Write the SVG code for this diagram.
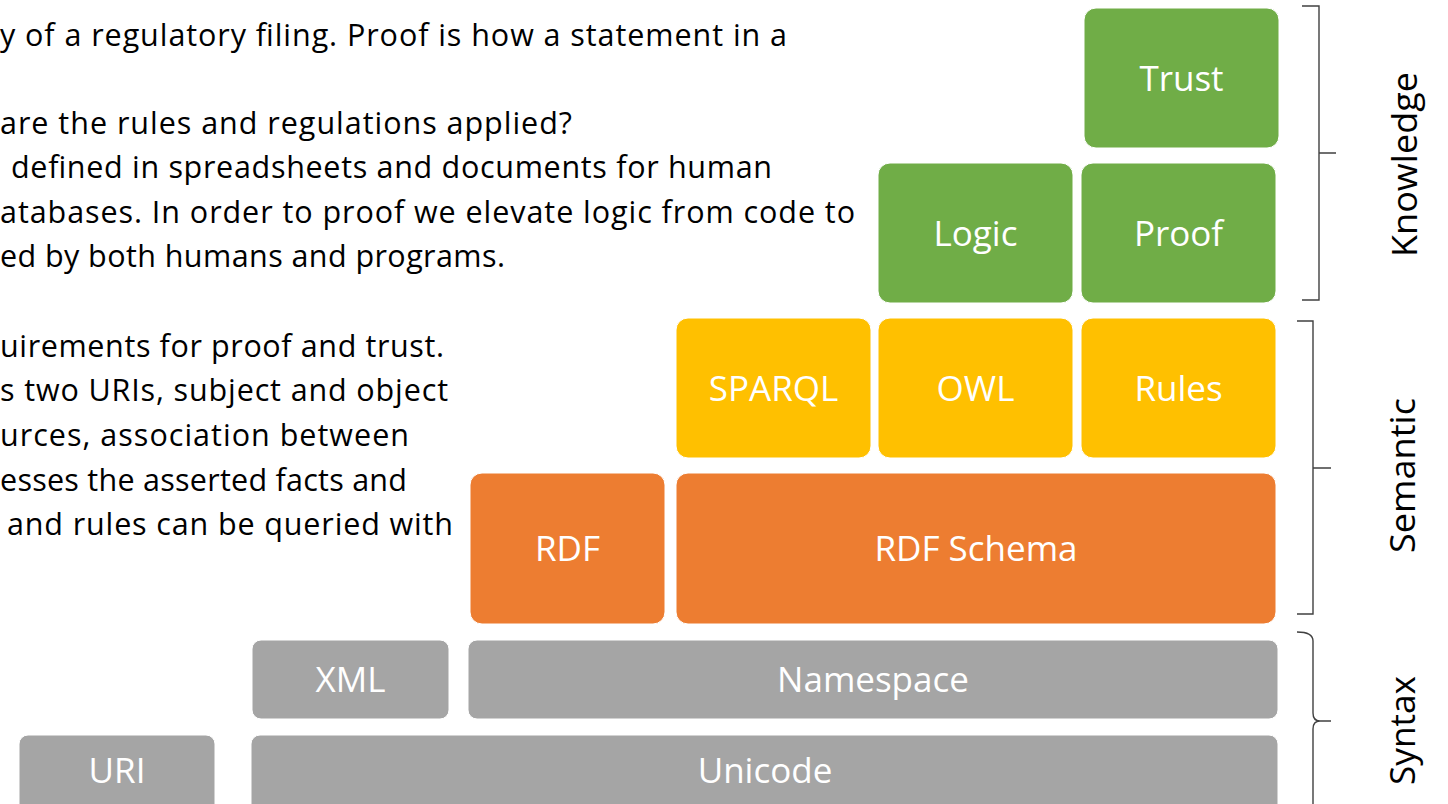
<svg xmlns="http://www.w3.org/2000/svg" width="1448" height="804" viewBox="0 0 1448 804">
  <style>
    .body { font-family: "Open Sans", "Noto Sans", sans-serif; font-size: 30.5px; fill: #000; }
    .lbl { font-family: "Open Sans", "Noto Sans", sans-serif; font-size: 35px; fill: #fff; text-anchor: middle; }
    .side { font-family: "Open Sans", "Noto Sans", sans-serif; font-size: 34px; fill: #000; text-anchor: middle; }
    .box { stroke: #fff; stroke-width: 1; }
    .green { fill: #70AD47; }
    .yellow { fill: #FFC000; }
    .orange { fill: #ED7D31; }
    .gray { fill: #A5A5A5; }
    .bracket { fill: none; stroke: #404040; stroke-width: 1.4; }
  </style>

  <rect width="1448" height="804" fill="#fff"/>

  <!-- Body text -->
  <g id="body-text">
    <text class="body" x="0" y="46" textLength="787" lengthAdjust="spacing">y of a regulatory filing. Proof is how a statement in a</text>
    <text class="body" x="0" y="134" textLength="572" lengthAdjust="spacing">are the rules and regulations applied?</text>
    <text class="body" x="11" y="178" textLength="761" lengthAdjust="spacing">defined in spreadsheets and documents for human</text>
    <text class="body" x="0" y="223" textLength="855" lengthAdjust="spacing">atabases. In order to proof we elevate logic from code to</text>
    <text class="body" x="0" y="267" textLength="505" lengthAdjust="spacing">ed by both humans and programs.</text>

    <text class="body" x="0" y="357" textLength="444" lengthAdjust="spacing">uirements for proof and trust.</text>
    <text class="body" x="0" y="401" textLength="448" lengthAdjust="spacing">s two URIs, subject and object</text>
    <text class="body" x="0" y="446" textLength="409" lengthAdjust="spacing">urces, association between</text>
    <text class="body" x="0" y="491" textLength="407" lengthAdjust="spacing">esses the asserted facts and</text>
    <text class="body" x="7" y="535" textLength="446" lengthAdjust="spacing">and rules can be queried with</text>
  </g>

  <!-- Knowledge layer -->
  <g id="trust">
    <rect class="box green" x="1084" y="8" width="195" height="140" rx="12"/>
    <text class="lbl" x="1181.5" y="90.5">Trust</text>
  </g>
  <g id="logic">
    <rect class="box green" x="878" y="163" width="195" height="140" rx="12"/>
    <text class="lbl" x="975.5" y="245.5">Logic</text>
  </g>
  <g id="proof">
    <rect class="box green" x="1081" y="163" width="195" height="140" rx="12"/>
    <text class="lbl" x="1178.5" y="245.5">Proof</text>
  </g>

  <!-- Semantic layer -->
  <g id="sparql">
    <rect class="box yellow" x="676" y="318" width="195" height="140" rx="12"/>
    <text class="lbl" x="773.5" y="400.5">SPARQL</text>
  </g>
  <g id="owl">
    <rect class="box yellow" x="878" y="318" width="195" height="140" rx="12"/>
    <text class="lbl" x="975.5" y="400.5">OWL</text>
  </g>
  <g id="rules">
    <rect class="box yellow" x="1081" y="318" width="195" height="140" rx="12"/>
    <text class="lbl" x="1178.5" y="400.5">Rules</text>
  </g>
  <g id="rdf">
    <rect class="box orange" x="470" y="473" width="195" height="151" rx="12"/>
    <text class="lbl" x="567.5" y="561">RDF</text>
  </g>
  <g id="rdf-schema">
    <rect class="box orange" x="676" y="473" width="600" height="151" rx="12"/>
    <text class="lbl" x="976" y="561">RDF Schema</text>
  </g>

  <!-- Syntax layer -->
  <g id="xml">
    <rect class="box gray" x="252" y="640" width="197" height="79" rx="9"/>
    <text class="lbl" x="350.5" y="692">XML</text>
  </g>
  <g id="namespace">
    <rect class="box gray" x="468" y="640" width="810" height="79" rx="9"/>
    <text class="lbl" x="873" y="692">Namespace</text>
  </g>
  <g id="uri">
    <rect class="box gray" x="19" y="735" width="196" height="80" rx="9"/>
    <text class="lbl" x="117" y="782.5">URI</text>
  </g>
  <g id="unicode">
    <rect class="box gray" x="251" y="735" width="1027" height="80" rx="9"/>
    <text class="lbl" x="765" y="782.5">Unicode</text>
  </g>

  <!-- Layer brackets -->
  <g id="connectors">
    <path class="bracket" d="M1302,6 H1319 V300 H1302 M1319,153 H1336"/>
    <path class="bracket" d="M1297,321 H1313 V614 H1297 M1313,468 H1331"/>
    <path class="bracket" d="M1297,632 Q1313,632 1313,641 V713 Q1313,721 1320,721 Q1313,721 1313,729 V820 M1318,721 H1331"/>
  </g>

  <!-- Layer names -->
  <g id="layer-labels">
    <text class="side" transform="translate(1417,164.5) rotate(-90)" textLength="185" lengthAdjust="spacingAndGlyphs">Knowledge</text>
    <text class="side" transform="translate(1415,475.5) rotate(-90)" textLength="155" lengthAdjust="spacingAndGlyphs">Semantic</text>
    <text class="side" transform="translate(1415,730.5) rotate(-90)" textLength="109" lengthAdjust="spacingAndGlyphs">Syntax</text>
  </g>
</svg>
